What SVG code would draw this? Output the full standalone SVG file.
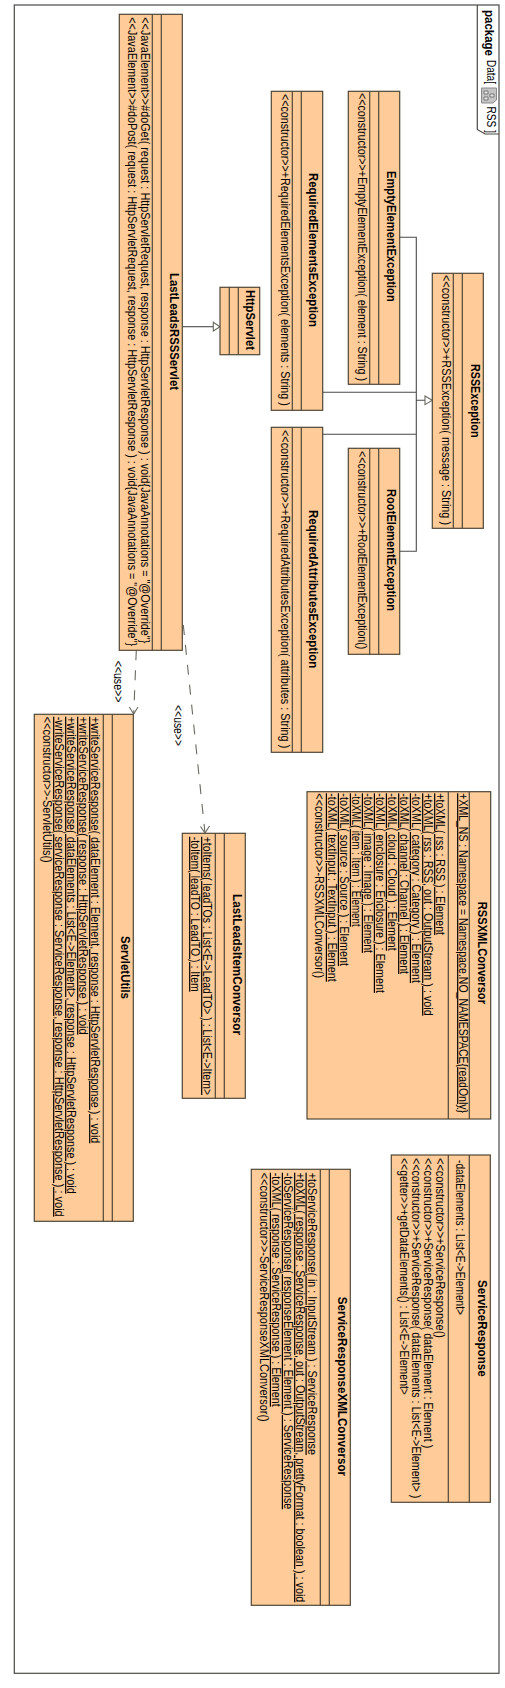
<svg xmlns="http://www.w3.org/2000/svg" width="505" height="1688" viewBox="0 0 505 1688">
<style>
.frame{fill:none;stroke:#4a4a46;stroke-width:1.2}
.box{fill:#ffcc99;stroke:#4f4637;stroke-width:1.2}
.sep{stroke:#4f4637;stroke-width:1.2;fill:none}
.conn{fill:none;stroke:#4a4a4a;stroke-width:1.1}
.dash{fill:none;stroke:#6a6a62;stroke-width:1.1;stroke-dasharray:10 10}
.head{fill:#fff;stroke:#6a6a62;stroke-width:1.1}
.open{fill:none;stroke:#6a6a62;stroke-width:1.1}
.n{font:bold 13px "Liberation Sans",Arial,sans-serif;fill:#000}
.m{font:12px "Liberation Sans",Arial,sans-serif;fill:#000}
.u{text-decoration:underline}
.p{font:12px "Liberation Sans",Arial,sans-serif;fill:#000}
.pb{font:bold 12px "Liberation Sans",Arial,sans-serif;fill:#000}
</style>
<rect width="505" height="1688" fill="#fff"/>
<g id="frame">
<rect class="frame" x="14.300" y="5" width="484.700" height="1668.300"/>
<path class="frame" d="M477.300 5V129.500L485 134H499"/>
<text class="pb" transform="translate(485 10) rotate(90)" textLength="46" lengthAdjust="spacingAndGlyphs">package</text>
<text class="p" transform="translate(486.500 60) rotate(90)" textLength="24" lengthAdjust="spacingAndGlyphs">Data[</text>
<path d="M481.500 88H496.500V100L493 103H481.500Z" fill="#c4c4c4" stroke="#8a8a8a"/>
<path d="M484 91h4v3h-4zM484 97h4v3h-4zM490 94h4v3h-4z" fill="#e8e8e8" stroke="#555" stroke-width=".7"/>
<text class="p" transform="translate(486.500 106.500) rotate(90)" textLength="26.500" lengthAdjust="spacingAndGlyphs">RSS ]</text>
</g>
<g id="connectors">
<path class="conn" d="M399.700 237.300H416.300V551.300H399.700M322.700 392.300H416.300M322.700 434.300H416.300M416.300 400.300H425"/>
<path class="head" d="M425 396L432.300 400.300L425 404.600Z"/>
<path class="conn" d="M182.300 326.700H213.300"/>
<path class="head" d="M213.300 322.300L220 326.700L213.300 331Z"/>
<path class="dash" d="M136.300 650.300L133.700 714"/>
<path class="open" d="M129.300 707L133.700 714L138 707"/>
<path class="dash" d="M183.300 625L205 833"/>
<path class="open" d="M200.500 826.500L205 833L209.500 826"/>
<text class="m" transform="translate(113.500 660.700) rotate(90)" textLength="41.600" lengthAdjust="spacingAndGlyphs">&lt;&lt;use&gt;&gt;</text>
<text class="m" transform="translate(173.500 705) rotate(90)" textLength="41" lengthAdjust="spacingAndGlyphs">&lt;&lt;use&gt;&gt;</text>
</g>
<g id="EmptyElementException">
<rect class="box" x="348.300" y="91.300" width="51.400" height="293"/>
<path class="sep" d="M369.700 91.300V384.300M378.700 91.300V384.300"/>
<text class="n" transform="translate(386.700 171) rotate(90)" textLength="130.700" lengthAdjust="spacingAndGlyphs">EmptyElementException</text>
<text class="m" transform="translate(357.700 93) rotate(90)" textLength="288" lengthAdjust="spacingAndGlyphs">&lt;&lt;constructor&gt;&gt;+EmptyElementException( element : String )</text>
</g>
<g id="RequiredElementsException">
<rect class="box" x="271.300" y="91.300" width="51.400" height="319"/>
<path class="sep" d="M292.300 91.300V410.300M301.300 91.300V410.300"/>
<text class="n" transform="translate(309.300 173) rotate(90)" textLength="154" lengthAdjust="spacingAndGlyphs">RequiredElementsException</text>
<text class="m" transform="translate(280.500 94) rotate(90)" textLength="311.700" lengthAdjust="spacingAndGlyphs">&lt;&lt;constructor&gt;&gt;+RequiredElementsException( elements : String )</text>
</g>
<g id="RequiredAttributesException">
<rect class="box" x="271.300" y="427.300" width="51.400" height="325"/>
<path class="sep" d="M292.300 427.300V752.300M301.300 427.300V752.300"/>
<text class="n" transform="translate(309.300 510) rotate(90)" textLength="158.300" lengthAdjust="spacingAndGlyphs">RequiredAttributesException</text>
<text class="m" transform="translate(280.500 430) rotate(90)" textLength="318.300" lengthAdjust="spacingAndGlyphs">&lt;&lt;constructor&gt;&gt;+RequiredAttributesException( attributes : String )</text>
</g>
<g id="RootElementException">
<rect class="box" x="348.300" y="448.300" width="51.400" height="206"/>
<path class="sep" d="M369.700 448.300V654.300M378.700 448.300V654.300"/>
<text class="n" transform="translate(386.700 489) rotate(90)" textLength="122" lengthAdjust="spacingAndGlyphs">RootElementException</text>
<text class="m" transform="translate(357.700 451) rotate(90)" textLength="198.300" lengthAdjust="spacingAndGlyphs">&lt;&lt;constructor&gt;&gt;+RootElementException()</text>
</g>
<g id="RSSException">
<rect class="box" x="432.300" y="273.300" width="51" height="255"/>
<path class="sep" d="M453.300 273.300V528.300M462.300 273.300V528.300"/>
<text class="n" transform="translate(470.700 364) rotate(90)" textLength="73.500" lengthAdjust="spacingAndGlyphs">RSSException</text>
<text class="m" transform="translate(441.700 275) rotate(90)" textLength="250" lengthAdjust="spacingAndGlyphs">&lt;&lt;constructor&gt;&gt;+RSSException( message : String )</text>
</g>
<g id="HttpServlet">
<rect class="box" x="220" y="287.300" width="39.700" height="67.400"/>
<path class="sep" d="M229.300 287.300V354.700M238.300 287.300V354.700"/>
<text class="n" transform="translate(246 290) rotate(90)" textLength="60" lengthAdjust="spacingAndGlyphs">HttpServlet</text>
</g>
<g id="LastLeadsRSSServlet">
<rect class="box" x="119.300" y="14.300" width="63" height="636"/>
<path class="sep" d="M152.300 14.300V650.300M161.300 14.300V650.300"/>
<text class="n" transform="translate(170 273) rotate(90)" textLength="117" lengthAdjust="spacingAndGlyphs">LastLeadsRSSServlet</text>
<text class="m" transform="translate(140.700 17.300) rotate(90)" textLength="626" lengthAdjust="spacingAndGlyphs">&lt;&lt;JavaElement&gt;&gt;#doGet( request : HttpServletRequest, response : HttpServletResponse ) : void{JavaAnnotations = "@Override"}</text>
<text class="m" transform="translate(128.300 17.300) rotate(90)" textLength="628.700" lengthAdjust="spacingAndGlyphs">&lt;&lt;JavaElement&gt;&gt;#doPost( request : HttpServletRequest, response : HttpServletResponse ) : void{JavaAnnotations = "@Override"}</text>
</g>
<g id="ServletUtils">
<rect class="box" x="34.300" y="714.300" width="99" height="507"/>
<path class="sep" d="M103.300 714.300V1221.300M112.300 714.300V1221.300"/>
<text class="n" transform="translate(120.700 936) rotate(90)" textLength="63" lengthAdjust="spacingAndGlyphs">ServletUtils</text>
<text class="m u" transform="translate(91.300 716.700) rotate(90)" textLength="426.600" lengthAdjust="spacingAndGlyphs">+writeServiceResponse( dataElement : Element, response : HttpServletResponse ) : void</text>
<text class="m u" transform="translate(79.300 716.700) rotate(90)" textLength="318" lengthAdjust="spacingAndGlyphs">+writeServiceResponse( response : HttpServletResponse ) : void</text>
<text class="m u" transform="translate(67.300 716.700) rotate(90)" textLength="477" lengthAdjust="spacingAndGlyphs">+writeServiceResponse( dataElements : List&lt;E-&gt;Element&gt;, response : HttpServletResponse ) : void</text>
<text class="m u" transform="translate(55.300 716.700) rotate(90)" textLength="500" lengthAdjust="spacingAndGlyphs">-writeServiceResponse( serviceResponse : ServiceResponse, response : HttpServletResponse ) : void</text>
<text class="m" transform="translate(43 716.700) rotate(90)" textLength="146" lengthAdjust="spacingAndGlyphs">&lt;&lt;constructor&gt;&gt;-ServletUtils()</text>
</g>
<g id="LastLeadsItemConversor">
<rect class="box" x="182.300" y="833.300" width="63" height="265"/>
<path class="sep" d="M215.300 833.300V1098.300M224.300 833.300V1098.300"/>
<text class="n" transform="translate(232.700 894) rotate(90)" textLength="141" lengthAdjust="spacingAndGlyphs">LastLeadsItemConversor</text>
<text class="m u" transform="translate(203.300 836.700) rotate(90)" textLength="258.300" lengthAdjust="spacingAndGlyphs">+toItems( leadTOs : List&lt;E-&gt;LeadTO&gt; ) : List&lt;E-&gt;Item&gt;</text>
<text class="m u" transform="translate(191.300 836.700) rotate(90)" textLength="155" lengthAdjust="spacingAndGlyphs">-toItem( leadTO : LeadTO ) : Item</text>
</g>
<g id="RSSXMLConversor">
<rect class="box" x="307" y="791.700" width="183.700" height="327.300"/>
<path class="sep" d="M448.300 791.700V1119M469.300 791.700V1119"/>
<text class="n" transform="translate(478.300 901.700) rotate(90)" textLength="102.300" lengthAdjust="spacingAndGlyphs">RSSXMLConversor</text>
<text class="m u" transform="translate(459.300 793.300) rotate(90)" textLength="319.700" lengthAdjust="spacingAndGlyphs">+XML_NS : Namespace = Namespace.NO_NAMESPACE{readOnly}</text>
<text class="m u" transform="translate(436.300 793.300) rotate(90)" textLength="141.700" lengthAdjust="spacingAndGlyphs">+toXML( rss : RSS ) : Element</text>
<text class="m u" transform="translate(424.300 793.300) rotate(90)" textLength="222.400" lengthAdjust="spacingAndGlyphs">+toXML( rss : RSS, out : OutputStream ) : void</text>
<text class="m u" transform="translate(412 793.300) rotate(90)" textLength="189.700" lengthAdjust="spacingAndGlyphs">-toXML( category : Category ) : Element</text>
<text class="m u" transform="translate(400.300 793.300) rotate(90)" textLength="180.700" lengthAdjust="spacingAndGlyphs">-toXML( channel : Channel ) : Element</text>
<text class="m u" transform="translate(388 793.300) rotate(90)" textLength="157.400" lengthAdjust="spacingAndGlyphs">-toXML( cloud : Cloud ) : Element</text>
<text class="m u" transform="translate(376 793.300) rotate(90)" textLength="199.700" lengthAdjust="spacingAndGlyphs">-toXML( enclosure : Enclosure ) : Element</text>
<text class="m u" transform="translate(364 793.300) rotate(90)" textLength="159.700" lengthAdjust="spacingAndGlyphs">-toXML( image : Image ) : Element</text>
<text class="m u" transform="translate(352 793.300) rotate(90)" textLength="133.400" lengthAdjust="spacingAndGlyphs">-toXML( item : Item ) : Element</text>
<text class="m u" transform="translate(340 793.300) rotate(90)" textLength="172.700" lengthAdjust="spacingAndGlyphs">-toXML( source : Source ) : Element</text>
<text class="m u" transform="translate(328 793.300) rotate(90)" textLength="188.400" lengthAdjust="spacingAndGlyphs">-toXML( textInput : TextInput ) : Element</text>
<text class="m" transform="translate(315 793.300) rotate(90)" textLength="184.700" lengthAdjust="spacingAndGlyphs">&lt;&lt;constructor&gt;&gt;-RSSXMLConversor()</text>
</g>
<g id="ServiceResponse">
<rect class="box" x="391.300" y="1155" width="99" height="347.300"/>
<path class="sep" d="M448.300 1155V1502.300M469.300 1155V1502.300"/>
<text class="n" transform="translate(477.700 1280) rotate(90)" textLength="96.700" lengthAdjust="spacingAndGlyphs">ServiceResponse</text>
<text class="m" transform="translate(456 1160) rotate(90)" textLength="155" lengthAdjust="spacingAndGlyphs">-dataElements : List&lt;E-&gt;Element&gt;</text>
<text class="m" transform="translate(436 1158) rotate(90)" textLength="180" lengthAdjust="spacingAndGlyphs">&lt;&lt;constructor&gt;&gt;+ServiceResponse()</text>
<text class="m" transform="translate(424.300 1158) rotate(90)" textLength="290.300" lengthAdjust="spacingAndGlyphs">&lt;&lt;constructor&gt;&gt;+ServiceResponse( dataElement : Element )</text>
<text class="m" transform="translate(412 1158) rotate(90)" textLength="340.300" lengthAdjust="spacingAndGlyphs">&lt;&lt;constructor&gt;&gt;+ServiceResponse( dataElements : List&lt;E-&gt;Element&gt; )</text>
<text class="m" transform="translate(399.500 1158) rotate(90)" textLength="237" lengthAdjust="spacingAndGlyphs">&lt;&lt;getter&gt;&gt;+getDataElements() : List&lt;E-&gt;Element&gt;</text>
</g>
<g id="ServiceResponseXMLConversor">
<rect class="box" x="251.300" y="1169.300" width="99" height="436"/>
<path class="sep" d="M320.300 1169.300V1605.300M329.300 1169.300V1605.300"/>
<text class="n" transform="translate(338.300 1296.700) rotate(90)" textLength="179.300" lengthAdjust="spacingAndGlyphs">ServiceResponseXMLConversor</text>
<text class="m u" transform="translate(307.700 1172.700) rotate(90)" textLength="282.300" lengthAdjust="spacingAndGlyphs">+toServiceResponse( in : InputStream ) : ServiceResponse</text>
<text class="m u" transform="translate(296.300 1172.700) rotate(90)" textLength="429.600" lengthAdjust="spacingAndGlyphs">+toXML( response : ServiceResponse, out : OutputStream, prettyFormat : boolean ) : void</text>
<text class="m u" transform="translate(284 1172.700) rotate(90)" textLength="336.600" lengthAdjust="spacingAndGlyphs">-toServiceResponse( responseElement : Element ) : ServiceResponse</text>
<text class="m u" transform="translate(272 1172.700) rotate(90)" textLength="234" lengthAdjust="spacingAndGlyphs">-toXML( response : ServiceResponse ) : Element</text>
<text class="m" transform="translate(259.500 1172.700) rotate(90)" textLength="249" lengthAdjust="spacingAndGlyphs">&lt;&lt;constructor&gt;&gt;-ServiceResponseXMLConversor()</text>
</g>
</svg>
